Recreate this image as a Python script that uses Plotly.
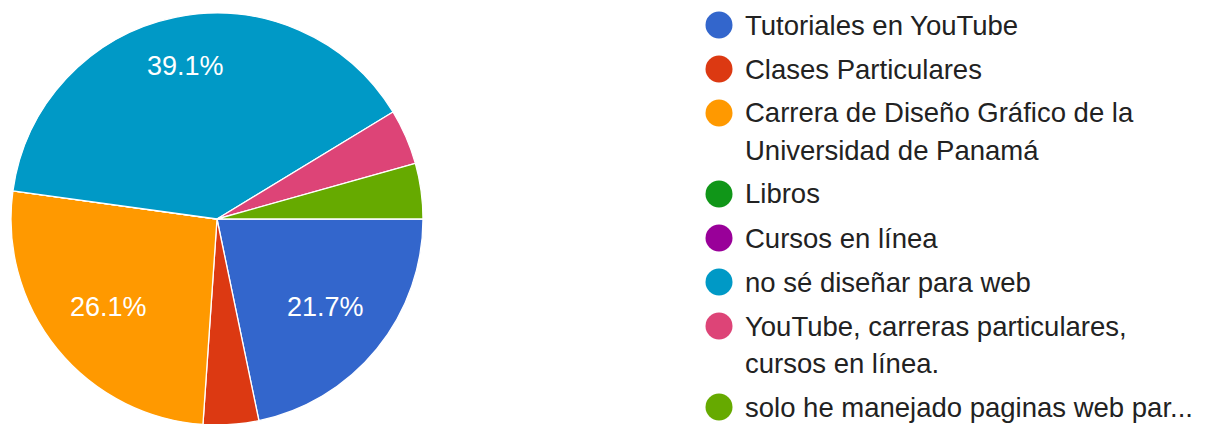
import math
import plotly.graph_objects as go

labels = [
    "Tutoriales en YouTube",
    "Clases Particulares",
    "Carrera de Diseño Gráfico de la Universidad de Panamá",
    "Libros",
    "Cursos en línea",
    "no sé diseñar para web",
    "YouTube, carreras particulares, cursos en línea.",
    "solo he manejado paginas web par...",
]
legend_lines = [
    ["Tutoriales en YouTube"],
    ["Clases Particulares"],
    ["Carrera de Diseño Gráfico de la", "Universidad de Panamá"],
    ["Libros"],
    ["Cursos en línea"],
    ["no sé diseñar para web"],
    ["YouTube, carreras particulares,", "cursos en línea."],
    ["solo he manejado paginas web par..."],
]
values = [5, 1, 6, 0, 0, 9, 1, 1]
colors = ["#3366cc", "#dc3912", "#ff9900", "#109618", "#990099", "#0099c6", "#dd4477", "#66aa00"]

W, H = 1210, 424
OFF = 8  # page body margin
FONT = "Liberation Sans, Arial, sans-serif"


def px(x):
    return (x - OFF) / W


def py(y):
    return 1 - (y - OFF) / H


# pie geometry (page pixels)
CX, CY, R = 217, 219, 206

fig = go.Figure()
fig.add_trace(go.Pie(
    labels=labels,
    values=values,
    textinfo="none",
    marker=dict(colors=colors, line=dict(color="white", width=1.3)),
    sort=False,
    direction="clockwise",
    rotation=90,
    showlegend=False,
    hoverinfo="label+percent",
    domain=dict(x=[px(CX - R), px(CX + R)], y=[py(CY + R), py(CY - R)]),
))

annotations = []
shapes = []

# percentage labels placed along each slice's mid-angle, so the text box fits inside the circle
total = sum(values)
TW, TH, RT = 77, 20, 0.86 * R
cum = 0
for v in values:
    frac = v / total
    if frac >= 0.1:
        mid = math.radians((cum + v / 2) / total * 360)  # clockwise from 3 o'clock
        c, s = math.cos(mid), math.sin(mid)
        b = TW * abs(c) + TH * abs(s)
        k = (TW ** 2 + TH ** 2) / 4 - RT ** 2
        d = (-b + math.sqrt(b * b - 4 * k)) / 2
        annotations.append(dict(
            x=px(CX + d * c), y=py(CY + d * s), xref="paper", yref="paper",
            xanchor="center", yanchor="middle", showarrow=False,
            text=f"{frac * 100:.1f}%",
            font=dict(size=27, color="white", family=FONT),
        ))
    cum += v

# manual legend
y = 25
for lines, col in zip(legend_lines, colors):
    shapes.append(dict(
        type="circle", xref="paper", yref="paper",
        xsizemode="pixel", ysizemode="pixel",
        xanchor=px(719), yanchor=py(y),
        x0=-13.5, x1=13.5, y0=-13.5, y1=13.5,
        fillcolor=col, line=dict(width=0),
    ))
    for i, ln in enumerate(lines):
        annotations.append(dict(
            x=px(743), y=py(y + 37 * i), xref="paper", yref="paper",
            xanchor="left", yanchor="middle", showarrow=False,
            text=ln, font=dict(size=27.5, color="#222222", family=FONT),
        ))
    y += 37 * (len(lines) - 1) + 44

fig.update_layout(
    width=W, height=H,
    margin=dict(l=0, r=0, t=0, b=0),
    paper_bgcolor="white", plot_bgcolor="white",
    shapes=shapes, annotations=annotations,
)

fig.write_html("out.html")
